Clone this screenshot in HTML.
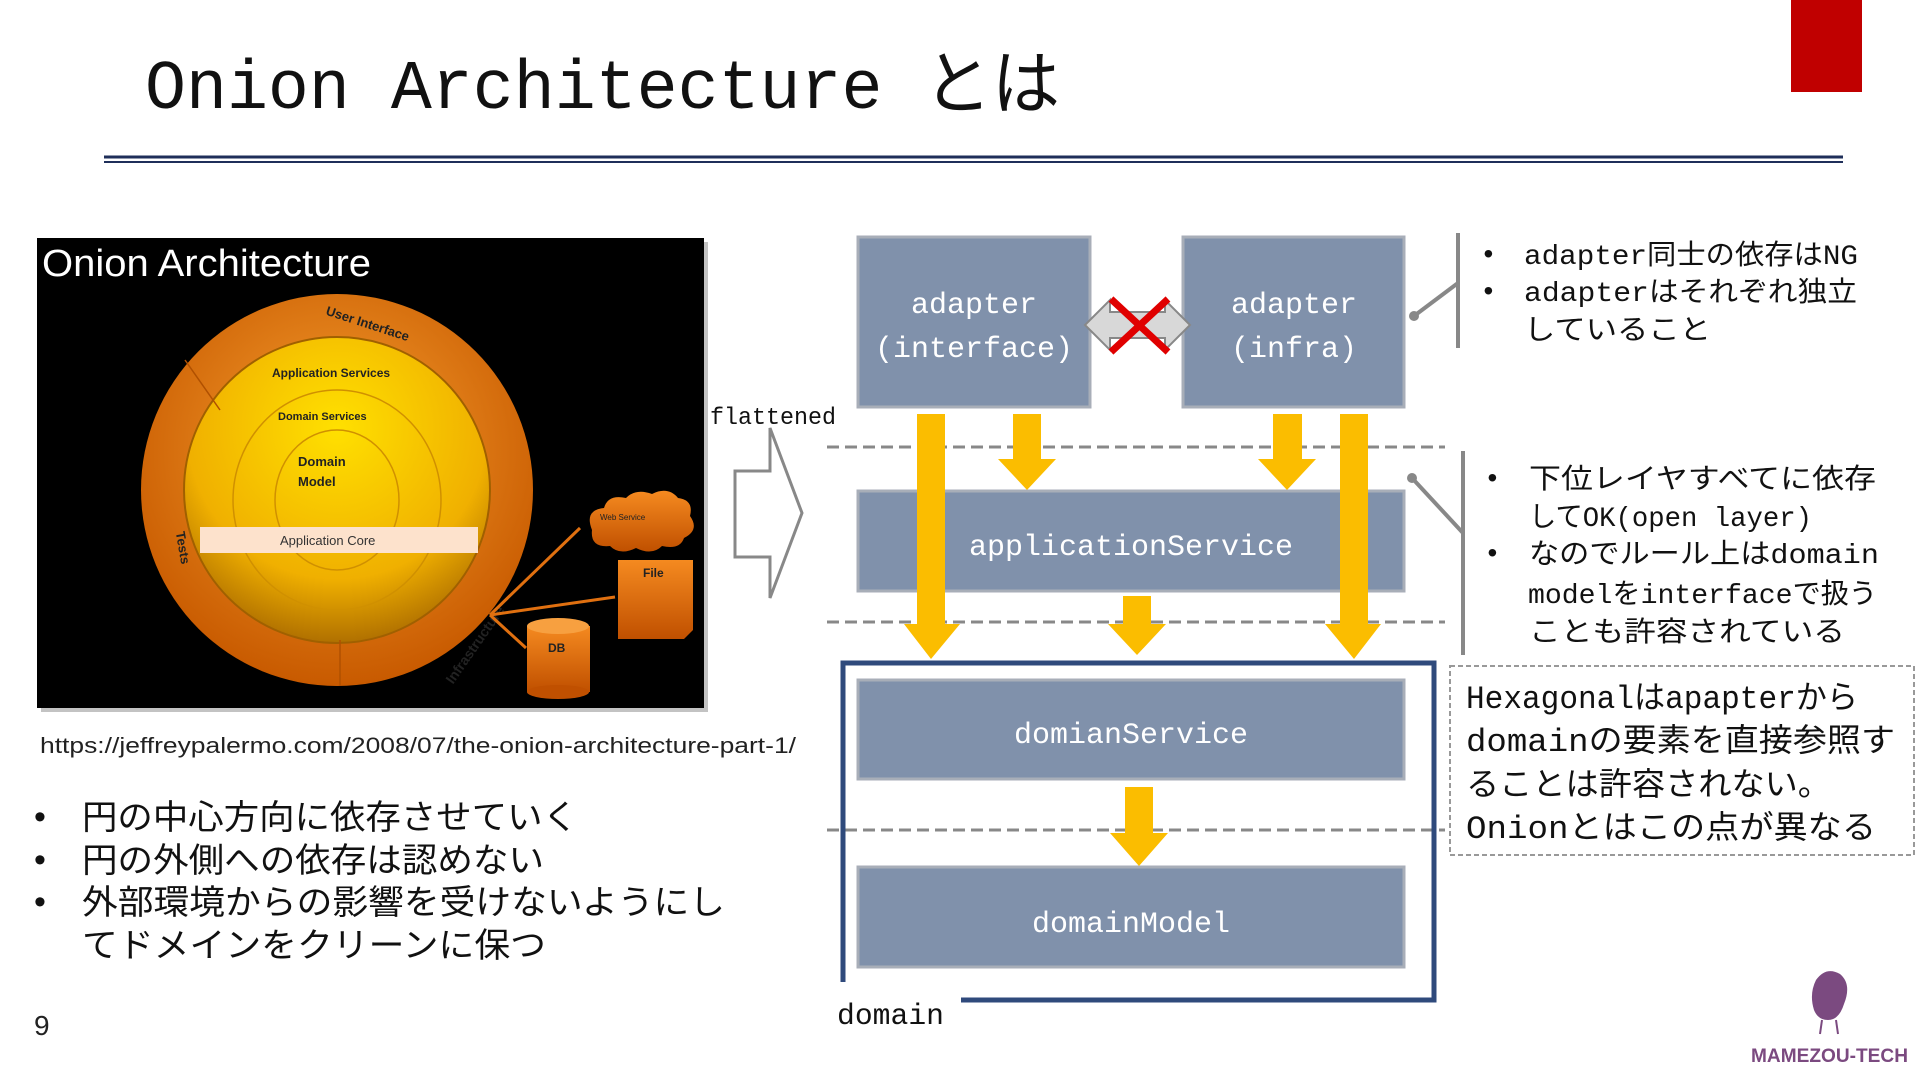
<!DOCTYPE html>
<html><head><meta charset="utf-8"><style>
html,body{margin:0;padding:0;background:#fff;width:1920px;height:1080px;overflow:hidden}
svg{display:block}
.m{font-family:"Liberation Mono","Noto Sans CJK JP",monospace}
.s{font-family:"Liberation Sans","Noto Sans CJK JP",sans-serif}
</style></head><body>
<svg width="1920" height="1080" viewBox="0 0 1920 1080" xmlns="http://www.w3.org/2000/svg">
<defs>
<radialGradient id="og" cx="50%" cy="40%" r="60%"><stop offset="0" stop-color="#f7a030"/><stop offset="1" stop-color="#c85a00"/></radialGradient>
<radialGradient id="yg" cx="50%" cy="30%" r="70%"><stop offset="0" stop-color="#ffe000"/><stop offset="0.7" stop-color="#f0b000"/><stop offset="1" stop-color="#b07000"/></radialGradient>
<linearGradient id="org" x1="0" y1="0" x2="0" y2="1"><stop offset="0" stop-color="#f58a20"/><stop offset="1" stop-color="#c05000"/></linearGradient>
</defs>
<!-- title -->
<text class="m" x="145" y="108" font-size="70" fill="#111" textLength="915" lengthAdjust="spacingAndGlyphs">Onion Architecture とは</text>
<rect x="1791" y="0" width="71" height="92" fill="#c00000"/>
<line x1="104" y1="157" x2="1843" y2="157" stroke="#1f2f5a" stroke-width="3"/>
<line x1="104" y1="162" x2="1843" y2="162" stroke="#1f2f5a" stroke-width="2"/>

<!-- onion image -->
<rect x="41" y="242" width="667" height="470" fill="#888" opacity="0.5"/>
<rect x="37" y="238" width="667" height="470" fill="#000"/>
<text class="s" x="42" y="276" font-size="38" fill="#fff" textLength="329" lengthAdjust="spacingAndGlyphs">Onion Architecture</text>
<circle cx="337" cy="490" r="196" fill="url(#og)"/>
<circle cx="337" cy="490" r="153" fill="url(#yg)" stroke="#a06000" stroke-width="2"/>
<ellipse cx="337" cy="500" rx="104" ry="110" fill="none" stroke="#d09000" stroke-width="1.5"/>
<ellipse cx="337" cy="500" rx="62" ry="70" fill="none" stroke="#d09000" stroke-width="1.5"/>
<line x1="185" y1="360" x2="220" y2="410" stroke="#b05000" stroke-width="1.5"/>
<line x1="340" y1="640" x2="340" y2="686" stroke="#b05000" stroke-width="1.5"/>
<rect x="200" y="527" width="278" height="26" fill="#fde2cc"/>
<text class="s" x="280" y="545" font-size="13" fill="#333">Application Core</text>
<text class="s" x="272" y="377" font-size="12" font-weight="bold" fill="#222">Application  Services</text>
<text class="s" x="278" y="420" font-size="11" font-weight="bold" fill="#222">Domain Services</text>
<text class="s" x="298" y="466" font-size="13" font-weight="bold" fill="#222">Domain</text>
<text class="s" x="298" y="486" font-size="13" font-weight="bold" fill="#222">Model</text>
<text class="s" x="322" y="326" font-size="13" font-weight="bold" fill="#222" transform="rotate(18 360 330)">User Interface</text>
<text class="s" x="165" y="535" font-size="13" font-weight="bold" fill="#222" transform="rotate(80 172 540)">Tests</text>
<text class="s" x="415" y="668" font-size="14" font-weight="bold" fill="#222" transform="rotate(-55 450 640)">Infrastructure</text>
<g stroke="#e07010" stroke-width="3" fill="none"><line x1="490" y1="615" x2="580" y2="528"/><line x1="490" y1="615" x2="615" y2="597"/><line x1="490" y1="615" x2="526" y2="648"/></g>
<path d="M592 530 q-8 -20 12 -22 q4 -14 22 -10 q10 -10 26 -4 q16 -8 26 4 q16 2 12 18 q10 14 -6 22 q-4 12 -22 8 q-10 10 -26 2 q-16 8 -26 -2 q-20 2 -18 -16z" fill="url(#org)"/>
<text class="s" x="600" y="520" font-size="8" fill="#222">Web Service</text>
<path d="M618 560 h75 v70 l-9 9 h-66z" fill="url(#org)"/>
<text class="s" x="643" y="577" font-size="12" font-weight="bold" fill="#222">File</text>
<rect x="527" y="626" width="63" height="66" fill="url(#org)"/>
<ellipse cx="558" cy="626" rx="31" ry="8" fill="#f7a040"/>
<ellipse cx="558" cy="692" rx="31" ry="7" fill="#c05000"/>
<text class="s" x="548" y="652" font-size="12" font-weight="bold" fill="#222">DB</text>

<text class="s" x="40" y="753" font-size="22" fill="#222" textLength="756" lengthAdjust="spacingAndGlyphs">https://jeffreypalermo.com/2008/07/the-onion-architecture-part-1/</text>
<g class="s" font-size="34" fill="#111">
<text x="34" y="828">•</text><text x="82" y="829" textLength="496" lengthAdjust="spacingAndGlyphs">円の中心方向に依存させていく</text>
<text x="34" y="871">•</text><text x="82" y="872" textLength="462" lengthAdjust="spacingAndGlyphs">円の外側への依存は認めない</text>
<text x="34" y="913">•</text><text x="82" y="914" textLength="643" lengthAdjust="spacingAndGlyphs">外部環境からの影響を受けないようにし</text>
<text x="82" y="957" textLength="464" lengthAdjust="spacingAndGlyphs">てドメインをクリーンに保つ</text>
</g>
<text class="s" x="34" y="1035" font-size="28" fill="#222">9</text>

<!-- flattened arrow -->
<text class="m" x="710" y="424" font-size="24" fill="#111" textLength="126" lengthAdjust="spacingAndGlyphs">flattened</text>
<path d="M735 471 H770 V428 L802 513 L770 598 V557 H735 Z" fill="#fff" stroke="#888" stroke-width="3"/>

<!-- dashed lines -->
<g stroke="#888" stroke-width="3" stroke-dasharray="12 6"><line x1="827" y1="447" x2="1445" y2="447"/><line x1="827" y1="622" x2="1445" y2="622"/><line x1="827" y1="830" x2="1445" y2="830"/></g>

<!-- boxes -->
<g fill="#8091ab" stroke="#a8aeb8" stroke-width="3">
<rect x="858" y="237" width="232" height="170"/><rect x="1183" y="237" width="221" height="170"/>
<rect x="858" y="491" width="546" height="100"/><rect x="858" y="680" width="546" height="99"/><rect x="858" y="867" width="546" height="100"/>
</g>
<g class="m" font-size="30" fill="#fff" text-anchor="middle">
<text x="974" y="313">adapter</text><text x="974" y="357">(interface)</text>
<text x="1294" y="313">adapter</text><text x="1294" y="357">(infra)</text>
<text x="1131" y="555">applicationService</text><text x="1131" y="743">domianService</text><text x="1131" y="932">domainModel</text>
</g>

<!-- domain border -->
<path d="M843 982 V663 H1434 V1000 H961" fill="none" stroke="#2f4a7c" stroke-width="5"/>
<text class="m" x="837" y="1024" font-size="30" fill="#111" textLength="107" lengthAdjust="spacingAndGlyphs">domain</text>

<!-- yellow arrows -->
<g fill="#fbbd00">
<path d="M917 414 H945 V624 H960 L931 659 L904 624 H917Z"/>
<path d="M1013 414 H1041 V459 H1056 L1027 490 L998 459 H1013Z"/>
<path d="M1273 414 H1302 V459 H1316 L1287 490 L1258 459 H1273Z"/>
<path d="M1340 414 H1368 V624 H1381 L1354 659 L1325 624 H1340Z"/>
<path d="M1123 596 H1151 V624 H1166 L1137 655 L1108 624 H1123Z"/>
<path d="M1125 787 H1153 V833 H1168 L1139 866 L1110 833 H1125Z"/>
</g>

<!-- double arrow with X -->
<path d="M1085 325 L1110 300 V312 H1165 V300 L1190 325 L1165 350 V338 H1110 V350 Z" fill="#d8d8d8" stroke="#888" stroke-width="2"/>
<g stroke="#e00000" stroke-width="7"><line x1="1111" y1="299" x2="1168" y2="352"/><line x1="1111" y1="352" x2="1168" y2="299"/></g>

<!-- brackets -->
<g stroke="#888" stroke-width="4" fill="#888">
<line x1="1458" y1="233" x2="1458" y2="348"/><line x1="1414" y1="316" x2="1458" y2="283"/><circle cx="1414" cy="316" r="5" stroke="none"/>
<line x1="1463" y1="451" x2="1463" y2="655"/><line x1="1412" y1="478" x2="1463" y2="533"/><circle cx="1412" cy="478" r="5" stroke="none"/>
</g>
<g class="m" font-size="28" fill="#111">
<text x="1480" y="263">•</text><text x="1524" y="264" textLength="334" lengthAdjust="spacingAndGlyphs">adapter同士の依存はNG</text>
<text x="1480" y="300">•</text><text x="1524" y="301" textLength="333" lengthAdjust="spacingAndGlyphs">adapterはそれぞれ独立</text>
<text x="1524" y="339" textLength="187" lengthAdjust="spacingAndGlyphs">していること</text>
<text x="1484" y="487">•</text><text x="1529" y="488" textLength="347" lengthAdjust="spacingAndGlyphs">下位レイヤすべてに依存</text>
<text x="1529" y="526" textLength="283" lengthAdjust="spacingAndGlyphs">してOK(open layer)</text>
<text x="1484" y="562">•</text><text x="1529" y="563" textLength="350" lengthAdjust="spacingAndGlyphs">なのでルール上はdomain</text>
<text x="1528" y="603" textLength="349" lengthAdjust="spacingAndGlyphs">modelをinterfaceで扱う</text>
<text x="1529" y="641" textLength="316" lengthAdjust="spacingAndGlyphs">ことも許容されている</text>
</g>
<rect x="1450" y="666" width="464" height="189" fill="#fff" stroke="#999" stroke-width="2" stroke-dasharray="5 3"/>
<g class="m" font-size="32" fill="#111">
<text x="1466" y="708" textLength="392" lengthAdjust="spacingAndGlyphs">Hexagonalはapapterから</text>
<text x="1466" y="751" textLength="429" lengthAdjust="spacingAndGlyphs">domainの要素を直接参照す</text>
<text x="1466" y="795" textLength="365" lengthAdjust="spacingAndGlyphs">ることは許容されない。</text>
<text x="1466" y="838" textLength="410" lengthAdjust="spacingAndGlyphs">Onionとはこの点が異なる</text>
</g>

<!-- logo -->
<path d="M1814 1010 q-5 -16 2 -30 q10 -14 24 -6 q12 10 4 30 q-5 16 -16 16 q-10 0 -14 -10z" fill="#7b4a80"/>
<g stroke="#7b4a80" stroke-width="2"><line x1="1822" y1="1020" x2="1820" y2="1034"/><line x1="1836" y1="1020" x2="1838" y2="1034"/></g>
<text class="s" x="1751" y="1062" font-size="19" font-weight="bold" fill="#7b4a80" textLength="157" lengthAdjust="spacingAndGlyphs">MAMEZOU-TECH</text>
</svg>
</body></html>
